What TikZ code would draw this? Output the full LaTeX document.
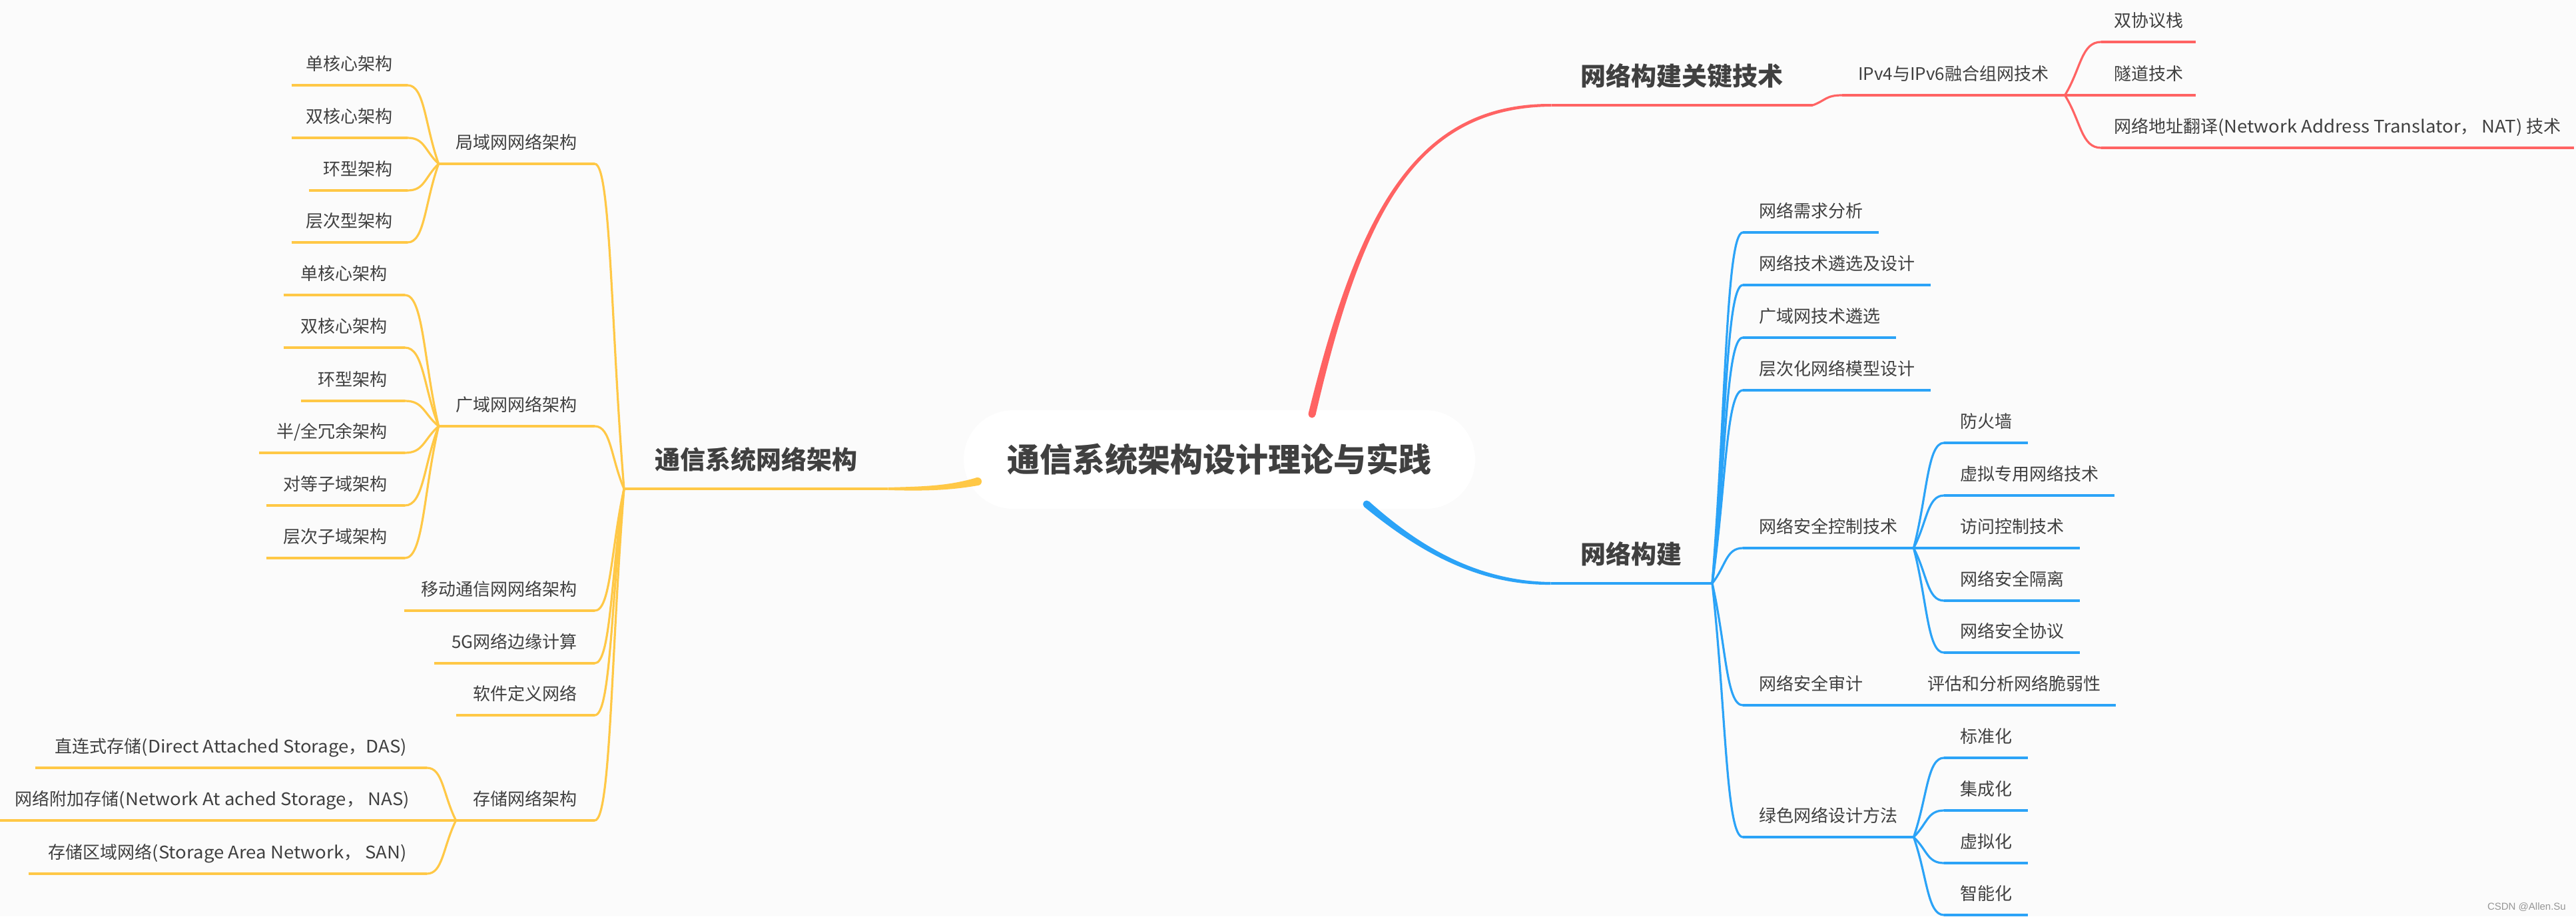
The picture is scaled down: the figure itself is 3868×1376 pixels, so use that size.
\documentclass[tikz,border=0pt]{standalone}
\usepackage{fontspec}
\usepackage{graphicx}
\setmainfont{Noto Sans CJK SC}
\newfontfamily\wmfont{Liberation Sans}
\usetikzlibrary{calc}
\newcommand\widelat[1]{\scalebox{1.06}[1]{#1}}
\definecolor{bgc}{RGB}{251,251,251}
\definecolor{txt}{RGB}{64,64,64}
\definecolor{yel}{RGB}{255,200,70}
\definecolor{redb}{RGB}{255,99,99}
\definecolor{blu}{RGB}{43,163,247}
\definecolor{wmc}{RGB}{150,150,150}
% tapered main branch: #1 colour, #2 P0, #3 P1, #4 P2, #5 P3, #6 half width at P0, #7 half width middle, #8 half width at P3
\newcommand\taperbranch[8]{%
  \fill[#1] ($(#2)!#6!90:(#3)$) .. controls ($(#3)!#7!-90:(#2)$) and ($(#4)!#7!90:(#5)$) .. ($(#5)!#8!-90:(#4)$)
    -- ($(#5)!#8!90:(#4)$) .. controls ($(#4)!#7!-90:(#5)$) and ($(#3)!#7!90:(#2)$) .. ($(#2)!#6!-90:(#3)$) -- cycle;
  \fill[#1] (#2) circle[radius=#6];
}
\tikzset{
  base26/.style={font=\fontsize{26}{30}\selectfont, text=txt, inner ysep=0pt, text height=22pt, text depth=22pt},
  lnode/.style={base26, anchor=south east, inner xsep=#1},
  rnode/.style={base26, anchor=south west, inner xsep=#1},
  mainlbl/.style={font=\fontsize{38}{44}\selectfont\bfseries, text=txt, inner ysep=0pt, text height=32pt, text depth=29pt},
  rootbox/.style={fill=white, rounded corners=74pt, minimum width=768pt, minimum height=148pt, inner sep=0pt,
    font=\fontsize{49}{56}\selectfont\bfseries, text=txt},
  conn/.style={line width=3.2pt, line cap=round, draw=#1},
  uline/.style={line width=3.2pt, draw=#1},
  branch/.style={to path={let \p1=(\tikztostart), \p2=(\tikztotarget) in
    .. controls ({\x1+0.45*(\x2-\x1)},{\y1+0.5*(\y2-\y1)}) and ({\x1+0.45*(\x2-\x1)},{\y2}) .. (\tikztotarget)}},
}
\begin{document}
\begin{tikzpicture}[x=1pt,y=-1pt]
\fill[bgc] (0,0) rectangle (3868,1376);
\useasboundingbox (0,0) rectangle (3868,1376);

% root
\node[rootbox] (root) at (1831,690) {通信系统架构设计理论与实践};
\coordinate (ys) at (1468,723);
\coordinate (rs) at (1970,622);
\coordinate (bs) at (2052,757);

% main labels
\node[mainlbl, anchor=south west, inner xsep=46pt] (Y) at (937,734) {通信系统网络架构};
\node[mainlbl, anchor=south east, inner xsep=44pt] (R) at (2722,158) {网络构建关键技术};
\node[mainlbl, anchor=south east, inner xsep=45pt] (B) at (2571,876) {网络构建};

% ---------- left (yellow) ----------
\node[lnode=26pt] (lan) at (893,246) {局域网网络架构};
\node[lnode=26pt] (wan) at (893,640) {广域网网络架构};
\node[lnode=26pt] (mob) at (893,917) {移动通信网网络架构};
\node[lnode=26pt] (g5) at (893,996) {5G网络边缘计算};
\node[lnode=26pt] (sdn) at (893,1074) {软件定义网络};
\node[lnode=26pt] (sto) at (893,1232) {存储网络架构};

\node[lnode=22pt] (lan1) at (612,128) {单核心架构};
\node[lnode=22pt] (lan2) at (612,207) {双核心架构};
\node[lnode=22pt] (lan3) at (612,286) {环型架构};
\node[lnode=22pt] (lan4) at (612,364) {层次型架构};

\node[lnode=26pt] (wan1) at (608,443) {单核心架构};
\node[lnode=26pt] (wan2) at (608,522) {双核心架构};
\node[lnode=26pt] (wan3) at (608,602) {环型架构};
\node[lnode=26pt] (wan4) at (608,680) {半/全冗余架构};
\node[lnode=26pt] (wan5) at (608,759) {对等子域架构};
\node[lnode=26pt] (wan6) at (608,838) {层次子域架构};

\node[lnode=30pt] (das) at (641,1153) {直连式存储\widelat{(Direct Attached Storage}，\widelat{DAS)}};
\node[lnode=26pt] (nas) at (641,1232) {网络附加存储\widelat{(Network At ached Storage}，\widelat{ NAS)}};
\node[lnode=30pt] (san) at (641,1312) {存储区域网络\widelat{(Storage Area Network}，\widelat{ SAN)}};

% ---------- right (blue) ----------
\node[rnode=24pt] (xq) at (2617,349) {网络需求分析};
\node[rnode=24pt] (js) at (2617,428) {网络技术遴选及设计};
\node[rnode=24pt] (gy) at (2617,507) {广域网技术遴选};
\node[rnode=24pt] (cc) at (2617,586) {层次化网络模型设计};
\node[rnode=24pt] (aq) at (2617,823) {网络安全控制技术};
\node[rnode=24pt] (sj) at (2617,1059) {网络安全审计};
\node[rnode=24pt] (ls) at (2617,1257) {绿色网络设计方法};

\node[rnode=24pt] (aq1) at (2919,665) {防火墙};
\node[rnode=24pt] (aq2) at (2919,744) {虚拟专用网络技术};
\node[rnode=24pt] (aq3) at (2919,823) {访问控制技术};
\node[rnode=24pt] (aq4) at (2919,902) {网络安全隔离};
\node[rnode=24pt] (aq5) at (2919,980) {网络安全协议};

\node[rnode=23pt] (sj1) at (2871,1059) {评估和分析网络脆弱性};

\node[rnode=24pt] (ls1) at (2919,1138) {标准化};
\node[rnode=24pt] (ls2) at (2919,1217) {集成化};
\node[rnode=24pt] (ls3) at (2919,1296) {虚拟化};
\node[rnode=24pt] (ls4) at (2919,1374) {智能化};

% ---------- top right (red) ----------
\node[rnode=24pt] (ipv) at (2766,143) {IPv4与IPv6融合组网技术};
\node[rnode=19pt] (sx) at (3155,63) {双协议栈};
\node[rnode=19pt] (sd) at (3155,143) {隧道技术};
\node[rnode=19pt] (nat) at (3155,222) {网络地址翻译\widelat{(Network Address Translator}，\widelat{ NAT) }技术};

% underlines
\foreach \k in {lan,wan,mob,g5,sdn,sto,lan1,lan2,lan3,lan4,wan1,wan2,wan3,wan4,wan5,wan6,das,nas,san}
  \draw[uline=yel] (\k.south west) -- (\k.south east);
\foreach \k in {xq,js,gy,cc,aq,sj,ls,aq1,aq2,aq3,aq4,aq5,sj1,ls1,ls2,ls3,ls4}
  \draw[uline=blu] (\k.south west) -- (\k.south east);
\foreach \k in {ipv,sx,sd,nat}
  \draw[uline=redb] (\k.south west) -- (\k.south east);

% connectors yellow
\foreach \k in {lan,wan,mob,g5,sdn,sto}
  \draw[conn=yel] (Y.south west) to[branch] (\k.south east);
\foreach \k in {lan1,lan2,lan3,lan4}
  \draw[conn=yel] (lan.south west) to[branch] (\k.south east);
\foreach \k in {wan1,wan2,wan3,wan4,wan5,wan6}
  \draw[conn=yel] (wan.south west) to[branch] (\k.south east);
\foreach \k in {das,nas,san}
  \draw[conn=yel] (sto.south west) to[branch] (\k.south east);

% connectors blue
\foreach \k in {xq,js,gy,cc,aq,sj,ls}
  \draw[conn=blu] (B.south east) to[branch] (\k.south west);
\foreach \k in {aq1,aq2,aq3,aq4,aq5}
  \draw[conn=blu] (aq.south east) to[branch] (\k.south west);
\draw[conn=blu] (sj.south east) to[branch] (sj1.south west);
\foreach \k in {ls1,ls2,ls3,ls4}
  \draw[conn=blu] (ls.south east) to[branch] (\k.south west);

% connectors red
\draw[conn=redb] (R.south east) to[branch] (ipv.south west);
\foreach \k in {sx,sd,nat}
  \draw[conn=redb] (ipv.south east) to[branch] (\k.south west);

% main tapered branches
\taperbranch{yel}{ys}{1425,733}{1390,734}{Y.south east}{6pt}{3.5pt}{2pt}
\draw[yel, line width=4pt] (Y.south east) -- (Y.south west);
\taperbranch{redb}{rs}{2040,330}{2120,158}{R.south west}{5.5pt}{3.5pt}{2pt}
\draw[redb, line width=4pt] (R.south west) -- (R.south east);
\taperbranch{blu}{bs}{2120,815}{2210,876}{B.south west}{5.5pt}{3.5pt}{2pt}
\draw[blu, line width=4pt] (B.south west) -- (B.south east);

% watermark
\node[font=\wmfont\fontsize{15}{18}\selectfont, text=wmc, anchor=base east, inner sep=0pt] (wm) at (3853,1366) {CSDN @Allen.Su};
\end{tikzpicture}
\end{document}
